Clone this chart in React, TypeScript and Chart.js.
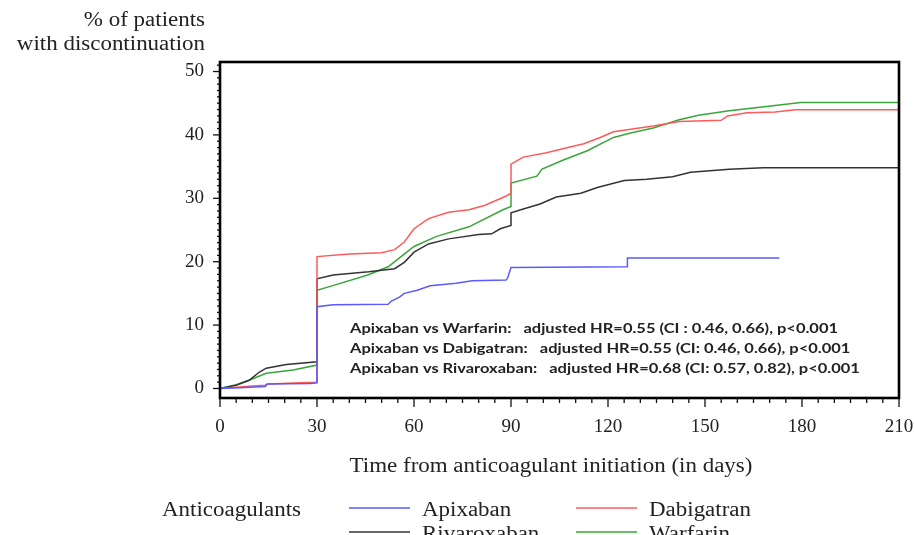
import React, { useEffect, useRef } from "react";
import { Chart, registerables } from "chart.js";
Chart.register(...registerables);

const xTickValues = [0, 30, 60, 90, 120, 150, 180, 210];
const yTickValues = [0, 10, 20, 30, 40, 50];

const apixabanDays = [0, 6, 14, 14.5, 28, 30, 30, 35, 52, 53, 55.5, 57, 61, 65, 73, 78, 88.5, 89, 90, 126, 126, 173];
const apixabanPct = [0, 0.1, 0.3, 0.7, 0.8, 0.9, 12.9, 13.2, 13.3, 13.8, 14.4, 15.0, 15.5, 16.2, 16.6, 17.0, 17.1, 17.5, 19.1, 19.2, 20.6, 20.6];

const dabigatranDays = [0, 5, 10, 14, 15, 25, 30, 30, 40, 50, 54, 57, 60, 64.5, 70.7, 77, 82, 88.7, 90, 90, 93.8, 101, 106, 112.5, 117.6, 121.7, 127, 134, 142, 155, 157, 163, 171.7, 178, 210];
const dabigatranPct = [0, 0.2, 0.4, 0.5, 0.7, 0.9, 1.0, 20.8, 21.2, 21.4, 21.9, 23.1, 25.2, 26.8, 27.8, 28.2, 28.9, 30.4, 30.8, 35.4, 36.5, 37.2, 37.8, 38.6, 39.6, 40.5, 40.9, 41.4, 42.1, 42.3, 43.0, 43.5, 43.6, 43.95, 43.95];

const rivaroxabanDays = [0, 5, 9, 12.2, 14.3, 20.5, 30, 30, 35, 46, 54, 57, 60, 64.5, 70.7, 80, 84, 86.7, 90, 90, 93.8, 99, 104, 111.6, 116.7, 125, 132, 140, 145.5, 157.5, 168, 210];
const rivaroxabanPct = [0, 0.5, 1.3, 2.6, 3.2, 3.8, 4.2, 17.3, 17.9, 18.4, 18.9, 19.9, 21.5, 22.8, 23.6, 24.3, 24.4, 25.2, 25.7, 27.7, 28.3, 29.1, 30.2, 30.8, 31.7, 32.8, 33.0, 33.4, 34.1, 34.6, 34.8, 34.8];

const warfarinDays = [0, 5, 9, 14.3, 22.6, 30, 30, 35.4, 45.7, 52, 56, 60, 67, 77, 87.5, 90, 90, 98, 99.6, 106, 113.6, 121.7, 127, 134, 142, 148, 157.5, 171, 179.6, 210];
const warfarinPct = [0, 0.6, 1.3, 2.4, 2.9, 3.7, 15.5, 16.3, 17.9, 19.2, 20.8, 22.4, 24.0, 25.5, 28.2, 28.7, 32.4, 33.5, 34.6, 36.0, 37.5, 39.6, 40.3, 41.1, 42.4, 43.1, 43.8, 44.6, 45.1, 45.1];

const seriesNames = ["Apixaban", "Dabigatran", "Rivaroxaban", "Warfarin"];
const seriesColors = ["#5a5aff", "#ff5a5a", "#333333", "#3aa53a"];

const hrLines = [
  "Apixaban vs Warfarin:   adjusted HR=0.55 (CI : 0.46, 0.66), p<0.001",
  "Apixaban vs Dabigatran:   adjusted HR=0.55 (CI: 0.46, 0.66), p<0.001",
  "Apixaban vs Rivaroxaban:   adjusted HR=0.68 (CI: 0.57, 0.82), p<0.001",
];

const yTitleLines = ["% of patients", "with discontinuation"];
const xTitle = "Time from anticoagulant initiation (in days)";
const legendTitle = "Anticoagulants";

const SERIF = "'Liberation Serif', 'DejaVu Serif', serif";
const SX = 1.12;

function toPoints(days: number[], pct: number[]) {
  return days.map((d, i) => ({ x: d, y: pct[i] }));
}

function stext(ctx: CanvasRenderingContext2D, s: string, x: number, y: number, align: CanvasTextAlign, sx: number) {
  ctx.save();
  ctx.translate(x, y);
  ctx.scale(sx, 1);
  ctx.textAlign = align;
  ctx.fillText(s, 0, 0);
  ctx.restore();
}

const decoPlugin = {
  id: "deco",
  afterDraw(chart: any) {
    const ctx: CanvasRenderingContext2D = chart.ctx;
    const a = chart.chartArea;
    const xs = chart.scales.x;
    const ys = chart.scales.y;
    ctx.save();
    // frame
    ctx.strokeStyle = "#000";
    ctx.lineWidth = 2.6;
    ctx.strokeRect(a.left, a.top, a.right - a.left, a.bottom - a.top);
    // ticks
    ctx.lineWidth = 1.3;
    ctx.strokeStyle = "#111";
    for (let d = 0; d <= 210; d += 5) {
      const px = xs.getPixelForValue(d);
      const major = d % 30 === 0;
      ctx.beginPath();
      ctx.moveTo(px, a.bottom);
      ctx.lineTo(px, a.bottom + (major ? 9 : 5));
      ctx.stroke();
    }
    for (let v = 0; v <= 51; v += 1) {
      const py = ys.getPixelForValue(v);
      const major = v % 10 === 0;
      ctx.beginPath();
      ctx.moveTo(a.left, py);
      ctx.lineTo(a.left - (major ? 7 : 3), py);
      ctx.stroke();
    }
    // titles
    ctx.fillStyle = "#222";
    ctx.textBaseline = "middle";
    ctx.font = `20.5px ${SERIF}`;
    stext(ctx, yTitleLines[0], 205, 21, "right", SX);
    stext(ctx, yTitleLines[1], 205, 45, "right", SX);
    stext(ctx, xTitle, 551, 467, "center", SX);
    // legend
    stext(ctx, legendTitle, 162, 511, "left", SX);
    const cols = [349, 576];
    const rows = [508, 532];
    const ds = chart.data.datasets;
    ds.forEach((d: any, i: number) => {
      const cx = cols[i % 2];
      const cy = rows[Math.floor(i / 2)];
      ctx.strokeStyle = d.borderColor;
      ctx.lineWidth = 1.6;
      ctx.beginPath();
      ctx.moveTo(cx, cy);
      ctx.lineTo(cx + 61, cy);
      ctx.stroke();
      stext(ctx, d.label, cx + 73, cy + 3, "left", SX);
    });
    // annotation
    ctx.font = `bold 14px Lato, 'Open Sans', sans-serif`;
    const natural = ctx.measureText(hrLines[0]).width;
    const fit = 488 / natural;
    const rowsY = [328, 348, 368];
    hrLines.forEach((s, i) => stext(ctx, s, 350, rowsY[i], "left", fit));
    ctx.restore();
  },
};

export default function App() {
  const ref = useRef<HTMLCanvasElement>(null);
  useEffect(() => {
    if (!ref.current) return;
    const data = {
      datasets: [
        { label: seriesNames[0], data: toPoints(apixabanDays, apixabanPct) },
        { label: seriesNames[1], data: toPoints(dabigatranDays, dabigatranPct) },
        { label: seriesNames[2], data: toPoints(rivaroxabanDays, rivaroxabanPct) },
        { label: seriesNames[3], data: toPoints(warfarinDays, warfarinPct) },
      ].map((d, i) => ({
        ...d,
        borderColor: seriesColors[i],
        backgroundColor: seriesColors[i],
        borderWidth: 1.5,
        pointRadius: 0,
        tension: 0,
        fill: false,
      })),
    };
    const chart = new Chart(ref.current, {
      type: "line",
      data,
      options: {
        animation: false,
        responsive: false,
        devicePixelRatio: 1,
        layout: { padding: { left: 160, top: 62, right: 15, bottom: 97 } },
        plugins: { legend: { display: false }, tooltip: { enabled: false } },
        scales: {
          x: {
            type: "linear",
            min: 0,
            max: 210,
            afterBuildTicks: (s: any) => {
              s.ticks = xTickValues.map((v) => ({ value: v }));
            },
            afterFit: (s: any) => {
              s.height = 40;
              s.paddingLeft = 0;
              s.paddingRight = 0;
            },
            grid: { display: false, drawTicks: false },
            border: { display: false },
            ticks: { font: { family: SERIF, size: 19 }, color: "#222", padding: 18, maxRotation: 0, autoSkip: false },
          },
          y: {
            type: "linear",
            min: -1.5,
            max: 51.5,
            afterBuildTicks: (s: any) => {
              s.ticks = yTickValues.map((v) => ({ value: v }));
            },
            afterFit: (s: any) => {
              s.width = 60;
              s.paddingTop = 0;
              s.paddingBottom = 0;
            },
            grid: { display: false, drawTicks: false },
            border: { display: false },
            ticks: { font: { family: SERIF, size: 19 }, color: "#222", padding: 16, autoSkip: false },
          },
        },
      },
      plugins: [decoPlugin],
    } as any);
    return () => chart.destroy();
  }, []);
  return (
    <div style={{ position: "fixed", left: 0, top: 0, width: 914, height: 535, background: "#fff" }}>
      <canvas ref={ref} width={914} height={535} />
    </div>
  );
}
